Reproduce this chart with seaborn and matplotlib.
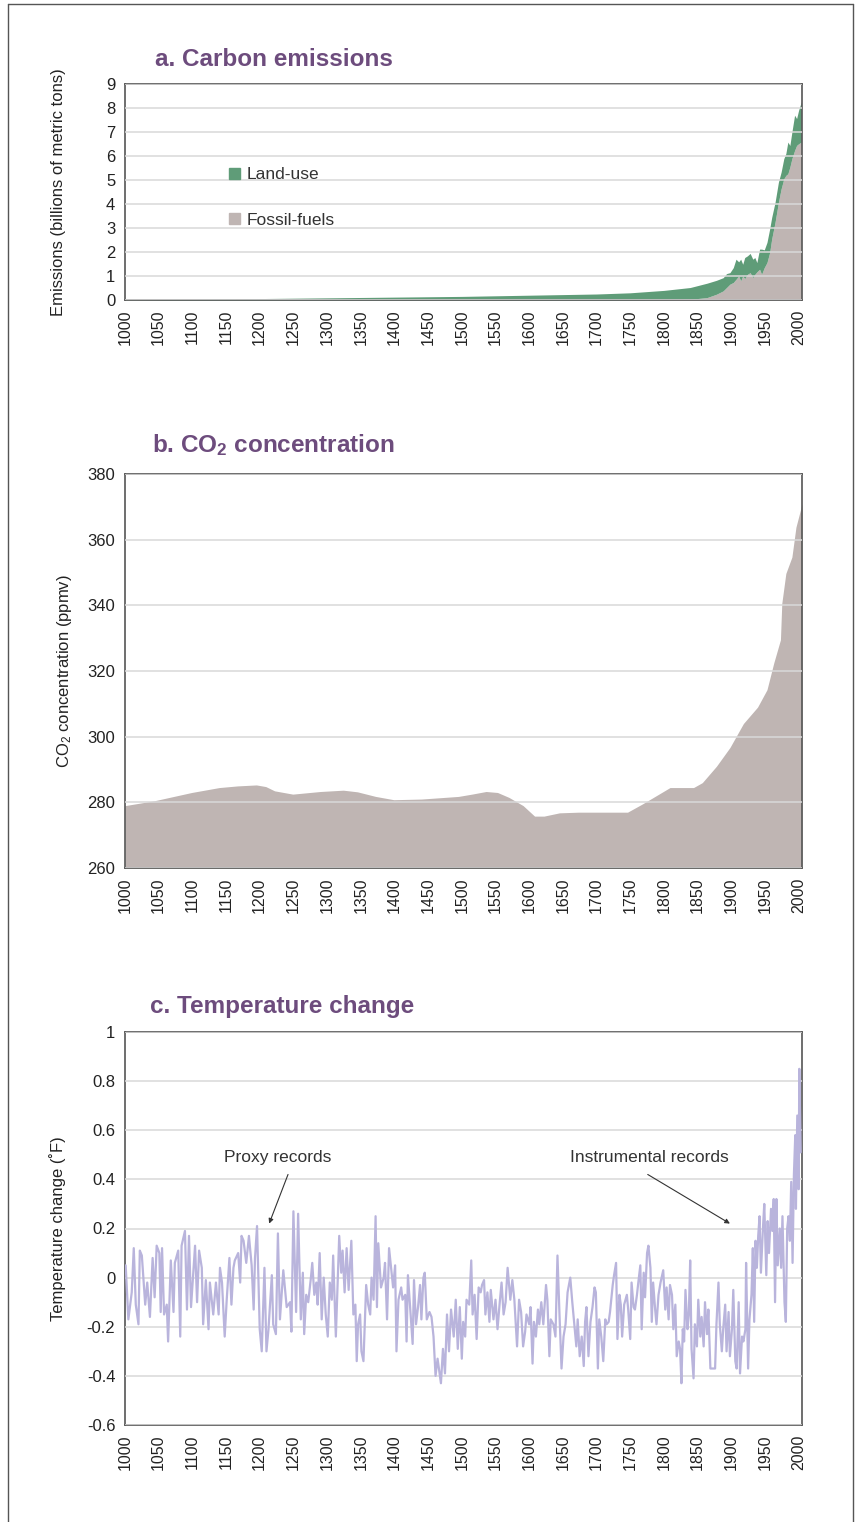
import matplotlib
matplotlib.use("Agg")
import matplotlib.pyplot as plt
from matplotlib.patches import Patch
from matplotlib.lines import Line2D
import numpy as np
import pandas as pd
import seaborn as sns

# ---------------- data ----------------
emis_years = [1000, 1100, 1200, 1300, 1400, 1500, 1600, 1700, 1750, 1800, 1839, 1864, 1878, 1888,
              1893, 1898, 1903, 1907, 1911, 1914, 1917, 1920, 1924, 1928, 1932, 1935, 1938, 1942,
              1945, 1949, 1953, 1957, 1960, 1965, 1970, 1974, 1978, 1981, 1984, 1987, 1990, 1994,
              1997, 2000, 2004]
fossil = [0, 0, 0, 0, 0, 0, 0, 0, 0, 0.01, 0.03, 0.10, 0.24, 0.38, 0.52, 0.66, 0.73, 0.86, 1.00,
          0.80, 1.00, 0.89, 1.07, 1.14, 0.93, 1.07, 1.17, 1.28, 1.07, 1.35, 1.56, 1.98, 2.54, 3.24,
          4.07, 4.63, 5.05, 5.19, 5.26, 5.54, 5.89, 6.23, 6.44, 6.51, 6.58]
landuse = [0.01, 0.03, 0.06, 0.09, 0.12, 0.15, 0.20, 0.25, 0.30, 0.39, 0.49, 0.60, 0.58, 0.55,
           0.58, 0.48, 0.62, 0.84, 0.59, 0.90, 0.49, 0.88, 0.77, 0.80, 0.77, 0.70, 0.39, 0.84,
           1.05, 0.74, 0.84, 0.98, 0.90, 0.83, 0.84, 0.70, 0.84, 0.91, 1.32, 0.90, 1.11, 1.47,
           1.12, 1.40, 1.68]

co2_years = [1000, 1044, 1099, 1140, 1167, 1195, 1209, 1222, 1249, 1290, 1324, 1345, 1372, 1399,
             1440, 1495, 1515, 1536, 1553, 1570, 1591, 1608, 1622, 1645, 1673, 1714, 1746, 1768,
             1809, 1823, 1844, 1857, 1878, 1898, 1918, 1939, 1953, 1963, 1973, 1975, 1981, 1990,
             1996, 2005]
co2_ppmv = [279.0, 280.5, 283.0, 284.5, 285.0, 285.3, 284.8, 283.5, 282.5, 283.3, 283.7, 283.2,
            281.8, 280.8, 281.0, 281.8, 282.5, 283.3, 283.0, 281.5, 279.0, 275.8, 275.8, 276.8,
            277.0, 277.0, 277.0, 279.5, 284.5, 284.5, 284.5, 286.0, 291.0, 296.7, 304.0, 309.0,
            314.3, 322.4, 329.5, 340.6, 349.7, 354.7, 363.8, 370.9]

temp_years = [
    1001, 1005, 1010, 1013, 1016, 1020, 1022, 1025, 1030, 1033, 1037, 1041, 1044, 1047, 1051, 1053,
    1055, 1058, 1062, 1064, 1068, 1072, 1074, 1079, 1082, 1084, 1089, 1092, 1095, 1098, 1104, 1107,
    1110, 1114, 1116, 1120, 1124, 1126, 1131, 1135, 1139, 1141, 1144, 1148, 1151, 1155, 1158, 1161,
    1163, 1168, 1171, 1173, 1176, 1180, 1184, 1188, 1191, 1193, 1196, 1200, 1203, 1207, 1210, 1213,
    1218, 1220, 1224, 1227, 1230, 1235, 1240, 1245, 1247, 1250, 1254, 1257, 1261,
    1264, 1266, 1269, 1272, 1276, 1278, 1281, 1284, 1286, 1289, 1292, 1295, 1298, 1301, 1304, 1307,
    1309, 1313, 1318, 1321, 1323, 1326, 1329, 1332, 1336, 1339, 1342, 1344, 1346, 1349, 1351, 1354,
    1358, 1361, 1364, 1366, 1369, 1372, 1374, 1376, 1380, 1384, 1386, 1389, 1392, 1395, 1398, 1401,
    1403, 1406, 1410, 1412, 1416, 1418, 1420, 1423, 1427, 1429, 1432, 1435, 1438, 1440, 1443, 1445,
    1448, 1452, 1455, 1458, 1461, 1464, 1467, 1469, 1472, 1475, 1478, 1481, 1484, 1488, 1491, 1494,
    1497, 1500, 1502,
    1505, 1507, 1511, 1514, 1516, 1519, 1522, 1525, 1528, 1530, 1533, 1535, 1538, 1541, 1543, 1547,
    1550, 1553, 1556, 1559, 1562, 1565, 1568, 1572, 1575, 1578, 1582, 1585, 1588, 1591, 1594, 1596,
    1600, 1602, 1605, 1607, 1610, 1613, 1615, 1618, 1621, 1625, 1627, 1630, 1632, 1636, 1639, 1642,
    1645, 1648, 1651, 1654, 1657, 1661, 1664, 1667, 1670, 1672, 1675, 1678, 1681, 1683, 1685, 1688,
    1691, 1694, 1697, 1699, 1702, 1704, 1707, 1710, 1713, 1715, 1718, 1720, 1724, 1726, 1729, 1731,
    1734, 1736, 1738, 1741, 1745, 1747, 1750, 1752, 1755,
    1757, 1760, 1762, 1765, 1767, 1770, 1772, 1775, 1777, 1780, 1782, 1784, 1787, 1789, 1792, 1795,
    1799, 1802, 1804, 1807, 1809, 1812, 1814, 1817, 1819, 1822, 1824, 1826, 1828, 1830, 1832, 1835,
    1837, 1839, 1841, 1844, 1846, 1849, 1851, 1854, 1856, 1859, 1861, 1864, 1866, 1869, 1871, 1876,
    1878, 1881, 1883, 1886, 1888, 1891, 1893, 1896, 1898, 1901, 1903, 1906, 1908, 1911, 1913, 1916,
    1918, 1921, 1922, 1925, 1927, 1930, 1932, 1934, 1936, 1938, 1940, 1942, 1944, 1947, 1949, 1952,
    1954, 1956, 1959, 1961, 1963, 1965, 1967, 1969, 1972, 1974, 1976, 1979, 1981, 1983, 1985, 1987,
    1989, 1991, 1993, 1995, 1996, 1998, 2000, 2001, 2003]
temp_change = [
    0.05, -0.17, -0.06, 0.12, -0.11, -0.19, 0.11, 0.09, -0.11, -0.02, -0.16, 0.08, -0.08, 0.13, 0.10, -0.14,
    0.12, -0.15, -0.11, -0.26, 0.07, -0.14, 0.06, 0.11, -0.24, 0.13, 0.19, -0.13, 0.17, -0.12, 0.13, -0.10,
    0.11, 0.04, -0.19, -0.01, -0.21, -0.02, -0.15, -0.02, -0.15, 0.04, -0.02, -0.24, -0.09, 0.08, -0.11, 0.04,
    0.07, 0.10, -0.02, 0.17, 0.15, 0.06, 0.17, 0.05, -0.13, 0.08, 0.21, -0.21, -0.30, 0.04, -0.30, -0.21,
    0.01, -0.19, -0.23, 0.18, -0.17, 0.03, -0.12, -0.10, -0.22, 0.27, -0.14, 0.26, -0.17,
    0.02, -0.23, -0.07, -0.10, 0.00, 0.06, -0.07, -0.02, -0.11, 0.10, -0.17, 0.00, -0.15, -0.24, -0.02, -0.09,
    0.09, -0.24, 0.17, 0.02, 0.11, -0.06, 0.12, -0.05, 0.15, -0.15, -0.11, -0.34, -0.19, -0.15, -0.30, -0.34,
    -0.03, -0.11, -0.15, 0.00, -0.09, 0.25, -0.12, 0.14, -0.04, 0.00, 0.06, -0.17, 0.12, 0.04, -0.04, 0.05,
    -0.30, -0.09, -0.04, -0.09, -0.07, -0.26, 0.01, -0.11, -0.27, -0.01, -0.19, -0.12, -0.03, -0.17, 0.00, 0.02,
    -0.17, -0.14, -0.16, -0.24, -0.40, -0.33, -0.39, -0.43, -0.29, -0.39, -0.15, -0.30, -0.13, -0.24, -0.09, -0.29,
    -0.12, -0.33, -0.18,
    -0.24, -0.09, -0.11, 0.07, -0.15, -0.07, -0.25, -0.04, -0.06, -0.03, -0.01, -0.15, -0.06, -0.18, -0.05, -0.17,
    -0.09, -0.21, -0.11, -0.02, -0.15, -0.10, 0.04, -0.09, -0.01, -0.09, -0.28, -0.09, -0.14, -0.28, -0.22, -0.15,
    -0.19, -0.12, -0.35, -0.18, -0.24, -0.13, -0.19, -0.10, -0.19, -0.03, -0.09, -0.32, -0.17, -0.19, -0.24, 0.09,
    -0.15, -0.37, -0.24, -0.19, -0.06, 0.00, -0.10, -0.19, -0.28, -0.17, -0.32, -0.24, -0.36, -0.18, -0.12, -0.32,
    -0.18, -0.12, -0.04, -0.06, -0.37, -0.17, -0.24, -0.34, -0.17, -0.19, -0.18, -0.14, -0.03, 0.01, 0.06, -0.25,
    -0.07, -0.11, -0.24, -0.11, -0.07, -0.13, -0.25, -0.02, -0.12,
    -0.13, -0.07, -0.02, 0.05, -0.21, 0.02, -0.08, 0.10, 0.13, 0.04, -0.18, -0.02, -0.13, -0.19, -0.07, -0.02,
    0.03, -0.13, -0.04, -0.17, -0.03, -0.07, -0.21, -0.11, -0.32, -0.26, -0.29, -0.43, -0.21, -0.26, -0.05, -0.21,
    -0.15, 0.07, -0.29, -0.41, -0.19, -0.28, -0.09, -0.24, -0.16, -0.28, -0.10, -0.23, -0.13, -0.37, -0.37, -0.37,
    -0.19, -0.02, -0.19, -0.30, -0.21, -0.11, -0.30, -0.14, -0.32, -0.21, -0.05, -0.34, -0.37, -0.10, -0.39, -0.24,
    -0.26, -0.21, 0.06, -0.37, -0.17, -0.07, 0.12, -0.18, 0.15, 0.04, 0.17, 0.25, 0.02, 0.20, 0.30, 0.01,
    0.23, 0.10, 0.28, 0.19, 0.32, -0.10, 0.32, 0.05, 0.20, 0.04, 0.25, -0.10, -0.18, 0.20, 0.25, 0.15,
    0.39, 0.06, 0.42, 0.58, 0.28, 0.66, 0.36, 0.85, 0.51]

x_ticks = list(range(1000, 2001, 50))
emis_yticks = list(range(0, 10))
co2_yticks = [260, 280, 300, 320, 340, 360, 380]
temp_yticks = [-0.6, -0.4, -0.2, 0, 0.2, 0.4, 0.6, 0.8, 1]
temp_ylabels = ["-0.6", "-0.4", "-0.2", "0", "0.2", "0.4", "0.6", "0.8", "1"]

# ---------------- style ----------------
sns.set_theme(style="white")
plt.rcParams["font.family"] = ["Liberation Sans", "DejaVu Sans"]
plt.rcParams["mathtext.fontset"] = "custom"
plt.rcParams["mathtext.rm"] = "Liberation Sans"
plt.rcParams["mathtext.it"] = "Liberation Sans:italic"
plt.rcParams["mathtext.bf"] = "Liberation Sans:bold"

GREEN = "#5f9c78"
GRAY = "#bfb5b3"
LAV = "#b9b4dc"
PURPLE = "#6d4c7d"
TXT = "#222222"
GRID = "#d9d9d9"

fig = plt.figure(figsize=(8.55, 15.22), dpi=100)
L, W = 125 / 855, 677 / 855
axa = fig.add_axes([L, 1 - 300 / 1522, W, 216 / 1522])
axb = fig.add_axes([L, 1 - 868 / 1522, W, 394 / 1522])
axc = fig.add_axes([L, 1 - 1425 / 1522, W, 393 / 1522])


def style(ax, yticks, ylabels, ylim, ylabel, label_x):
    ax.set_xlim(1000, 2005)
    ax.set_ylim(*ylim)
    ax.set_xticks(x_ticks)
    ax.set_xticklabels([str(t) for t in x_ticks], rotation=90, fontsize=11.5, color=TXT)
    ax.set_yticks(yticks)
    ax.set_yticklabels(ylabels, fontsize=12, color=TXT)
    ax.tick_params(axis="both", length=0)
    ax.tick_params(axis="x", pad=7)
    ax.tick_params(axis="y", pad=7)
    ax.grid(False)
    ax.grid(axis="y", color=GRID, lw=1.1, zorder=2.5)
    ax.set_axisbelow(False)
    for s in ax.spines.values():
        s.set_visible(True)
        s.set_color("#555555")
        s.set_linewidth(1.2)
    ax.set_xlabel("")
    ax.set_ylabel(ylabel, fontsize=12, color=TXT)
    ax.yaxis.set_label_coords(label_x, 0.5)


# ---- panel a ----
ey = np.array(emis_years)
ff = np.array(fossil)
tot = ff + np.array(landuse)
axa.fill_between(ey, 0, ff, color=GRAY, lw=0, zorder=1)
axa.fill_between(ey, ff, tot, color=GREEN, lw=0, zorder=1)
style(axa, emis_yticks, [str(t) for t in emis_yticks], (0, 9),
      "Emissions (billions of metric tons)", -0.087)
axa.legend(handles=[Patch(color=GREEN, label="Land-use"), Patch(color=GRAY, label="Fossil-fuels")],
           loc="upper left", bbox_to_anchor=(0.141, 0.655), frameon=False, fontsize=12.5,
           handlelength=0.6, handleheight=0.6, handletextpad=0.4, labelspacing=1.75,
           borderpad=0, labelcolor="#333333")

# ---- panel b ----
axb.fill_between(co2_years, 260, co2_ppmv, color=GRAY, lw=0, zorder=1)
style(axb, co2_yticks, [str(t) for t in co2_yticks], (260, 380),
      r"CO$_2$ concentration (ppmv)", -0.076)

# ---- panel c ----
tdf = pd.DataFrame({"year": temp_years, "temp": temp_change})
sns.lineplot(data=tdf, x="year", y="temp", ax=axc, color=LAV, lw=1.6, estimator=None,
             zorder=3)
style(axc, temp_yticks, temp_ylabels, (-0.6, 1.0), "Temperature change (˚F)", -0.087)

axc.text(1226, 0.49, "Proxy records", ha="center", va="center", fontsize=12.5, color="#333333")
axc.annotate("", xy=(1214, 0.22), xytext=(1242, 0.42),
             arrowprops=dict(arrowstyle="-|>", color="#333333", lw=0.8, mutation_scale=7,
                             shrinkA=0, shrinkB=0))
axc.text(1779, 0.49, "Instrumental records", ha="center", va="center", fontsize=12.5,
         color="#333333")
axc.annotate("", xy=(1898, 0.22), xytext=(1776, 0.42),
             arrowprops=dict(arrowstyle="-|>", color="#333333", lw=0.8, mutation_scale=7,
                             shrinkA=0, shrinkB=0))

# ---- titles ----
fig.text(155 / 855, 1 - 59 / 1522, "a. Carbon emissions", fontsize=17.5, fontweight="bold",
         color=PURPLE, ha="left", va="center")
fig.text(152 / 855, 1 - 445 / 1522, r"b. CO$_\mathbf{2}$ concentration", fontsize=17.5,
         fontweight="bold", color=PURPLE, ha="left", va="center")
fig.text(150 / 855, 1 - 1007 / 1522, "c. Temperature change", fontsize=17.5, fontweight="bold",
         color=PURPLE, ha="left", va="center")

# ---- frame ----
fc = "#555555"
fig.add_artist(Line2D([8 / 855, 8 / 855], [0, 1 - 4 / 1522], transform=fig.transFigure,
                      color=fc, lw=1))
fig.add_artist(Line2D([853 / 855, 853 / 855], [0, 1 - 4 / 1522], transform=fig.transFigure,
                      color=fc, lw=1))
fig.add_artist(Line2D([8 / 855, 853 / 855], [1 - 4 / 1522, 1 - 4 / 1522],
                      transform=fig.transFigure, color=fc, lw=1))

fig.savefig("out.png", dpi=100, facecolor="white")
